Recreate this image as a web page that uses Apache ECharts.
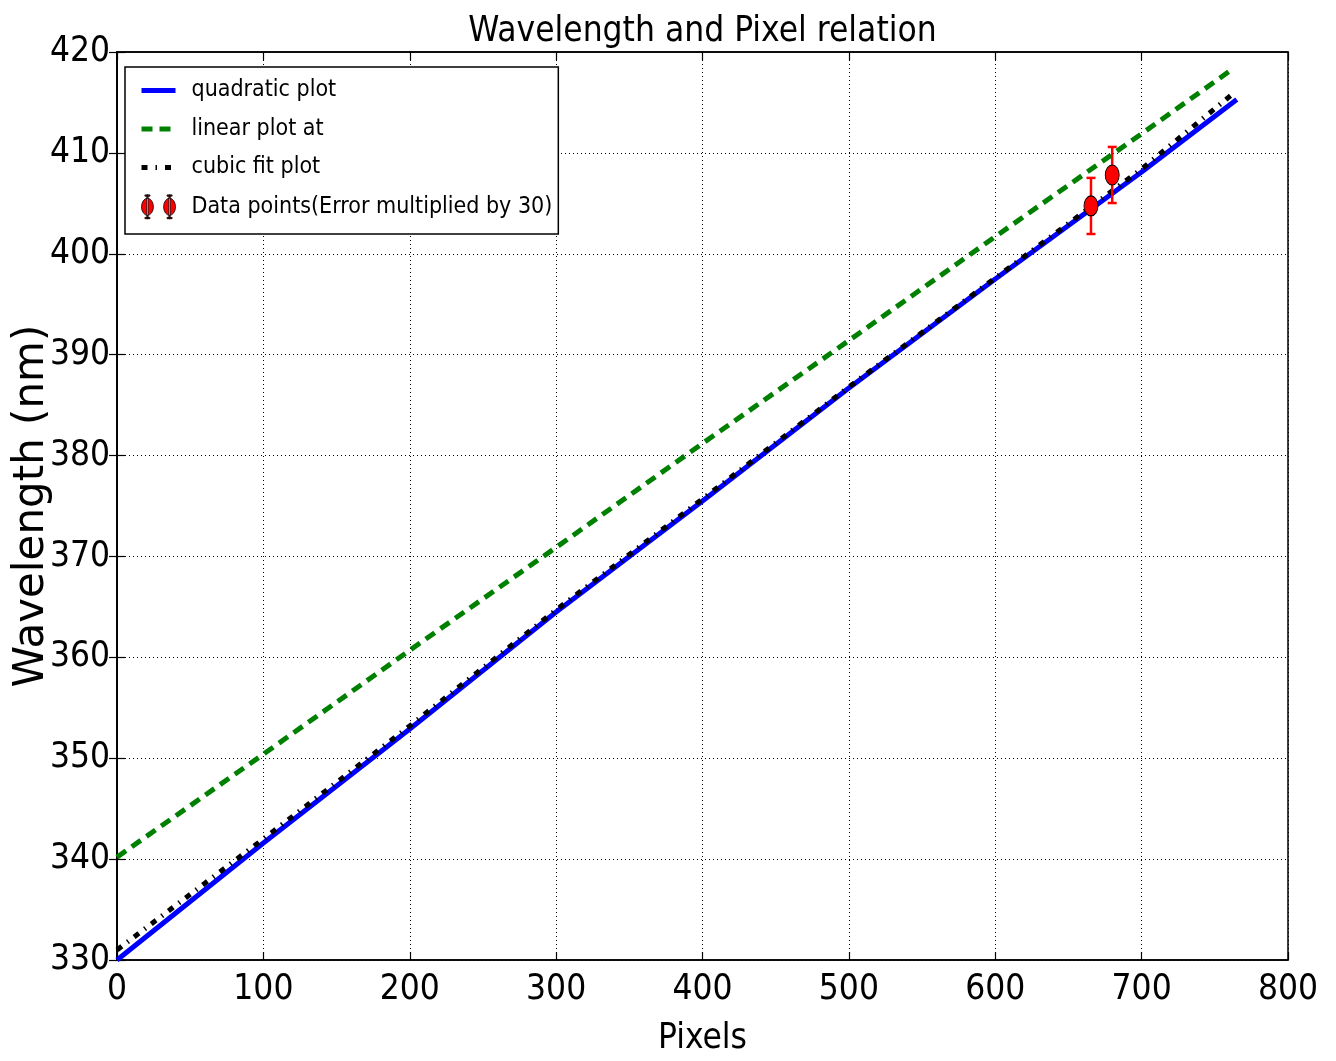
<!DOCTYPE html>
<html><head><meta charset="utf-8">
<script src="https://cdn.jsdelivr.net/npm/echarts@6/dist/echarts.min.js"></script>
<style>html,body{margin:0;padding:0;background:#fff}#c{width:1336px;height:1061px}</style>
</head><body><div id="c"></div>
<script>
// ---- data ----
const quadX = [0, 100, 200, 300, 400, 500, 600, 700, 765];
const quadY = [330.0, 341.6, 352.9, 364.5, 375.5, 386.7, 397.5, 408.1, 415.3];
const linX = [0, 100, 200, 300, 400, 500, 600, 700, 762];
const linY = [340.2, 350.4, 360.7, 370.9, 381.2, 391.4, 401.7, 411.9, 418.3];
const cubX = [0, 100, 200, 300, 400, 500, 600, 700, 761];
const cubY = [331.0, 342.0, 353.2, 364.7, 375.7, 386.8, 397.6, 408.4, 415.7];
const ptX = [665.4, 679.9];
const ptY = [404.74, 407.81];
const ptErr = [2.78, 2.78];
const xTicks = [0, 100, 200, 300, 400, 500, 600, 700, 800];
const yTicks = [330, 340, 350, 360, 370, 380, 390, 400, 410, 420];
const names = ['quadratic plot', 'linear plot at', 'cubic fit plot', 'Data points(Error multiplied by 30)'];

const COND = "'DejaVu Sans Condensed', 'DejaVu Sans', sans-serif";
const zip = (a, b) => a.map((v, i) => [v, b[i]]);

const chart = echarts.init(document.getElementById('c'), null, {renderer: 'canvas'});
const grid = {left: 117, right: 48, top: 52, bottom: 101, containLabel: false, outerBoundsMode: 'none',
  show: true, borderColor: '#000', borderWidth: 1.5, backgroundColor: '#fff'};
const tickInside = {show: true, inside: true, length: 8, lineStyle: {color: '#000', width: 1.2}};
const dotted = {show: true, lineStyle: {color: '#000', width: 1, type: [1, 3]}};

const dataIcon = 'path://M0,14 A7,10 0 1,0 14,14 A7,10 0 1,0 0,14 Z M6.2,0 L7.8,0 L7.8,28 L6.2,28 Z M4,0 L10,0 L10,1.5 L4,1.5 Z M4,26.5 L10,26.5 L10,28 L4,28 Z M26,14 A7,10 0 1,0 40,14 A7,10 0 1,0 26,14 Z M32.2,0 L33.8,0 L33.8,28 L32.2,28 Z M30,0 L36,0 L36,1.5 L30,1.5 Z M30,26.5 L36,26.5 L36,28 L30,28 Z';
const hidden = {opacity: 0};

const option = {
  animation: false,
  backgroundColor: '#fff',
  grid: grid,
  graphic: [{
    type: 'text', x: 702.5, y: 32,
    style: {text: 'Wavelength and Pixel relation', font: '35px ' + COND, fill: '#000', textAlign: 'center', textVerticalAlign: 'middle'}
  }],
  legend: {
    orient: 'vertical', left: 125, top: 67,
    backgroundColor: '#fff', borderColor: '#000', borderWidth: 1.5, borderRadius: 0,
    padding: [12, 6, 15, 14],
    itemWidth: 34, itemHeight: 26, itemGap: 15.5, selectedMode: false,
    textStyle: {fontFamily: COND, fontSize: 23, color: '#000', padding: [0, 0, 0, 11]},
    data: [
      {name: names[0], itemStyle: hidden, lineStyle: {width: 5, color: '#0000ff', type: 'solid'}},
      {name: names[1], itemStyle: hidden, lineStyle: {width: 5, color: '#008000', type: [11, 7]}},
      {name: names[2], itemStyle: hidden, lineStyle: {width: 5, color: '#000', type: [6, 8, 1.5, 8]}},
      {name: names[3], icon: dataIcon, itemStyle: {color: '#ff0000', borderColor: '#000', borderWidth: 0.8}}
    ]
  },
  xAxis: [{
    type: 'value', min: xTicks[0], max: xTicks[xTicks.length - 1], interval: 100,
    name: 'Pixels', nameLocation: 'middle', nameGap: 61,
    nameTextStyle: {fontFamily: COND, fontSize: 35, color: '#000'},
    axisLine: {show: true, lineStyle: {color: '#000', width: 1.5}},
    axisTick: tickInside,
    axisLabel: {fontFamily: COND, fontSize: 35, color: '#000', margin: 12},
    splitLine: dotted
  }, {
    type: 'value', position: 'top', min: xTicks[0], max: xTicks[xTicks.length - 1], interval: 100,
    axisLine: {show: true, lineStyle: {color: '#000', width: 1.5}},
    axisTick: tickInside, axisLabel: {show: false}, splitLine: {show: false}
  }],
  yAxis: [{
    type: 'value', min: yTicks[0], max: yTicks[yTicks.length - 1], interval: 10,
    name: 'Wavelength (nm)', nameLocation: 'middle', nameGap: 64, nameRotate: 90, nameMoveOverlap: false,
    nameTextStyle: {fontFamily: "'DejaVu Sans', sans-serif", fontSize: 42, color: '#000'},
    axisLine: {show: true, lineStyle: {color: '#000', width: 1.5}},
    axisTick: tickInside,
    axisLabel: {fontFamily: COND, fontSize: 35, color: '#000', margin: 7},
    splitLine: dotted
  }, {
    type: 'value', position: 'right', min: yTicks[0], max: yTicks[yTicks.length - 1], interval: 10,
    axisLine: {show: true, lineStyle: {color: '#000', width: 1.5}},
    axisTick: tickInside, axisLabel: {show: false}, splitLine: {show: false}
  }],
  series: [
    {name: names[1], type: 'line', data: zip(linX, linY), showSymbol: false, symbol: 'none', z: 2,
     lineStyle: {color: '#008000', width: 5, type: [11, 7]}, itemStyle: {color: '#008000'}},
    {name: names[0], type: 'line', data: zip(quadX, quadY), showSymbol: false, symbol: 'none', z: 3,
     lineStyle: {color: '#0000ff', width: 5}, itemStyle: {color: '#0000ff'}},
    {name: names[2], type: 'line', data: zip(cubX, cubY), showSymbol: false, symbol: 'none', z: 4,
     lineStyle: {color: '#000', width: 5, type: [6, 7, 1.5, 7]}, itemStyle: {color: '#000'}},
    {name: names[3] + '_err', type: 'custom', z: 5,
     data: ptX.map((x, i) => [x, ptY[i], ptErr[i]]),
     renderItem: function (params, api) {
       const x = api.value(0), y = api.value(1), e = api.value(2);
       const t = api.coord([x, y + e]), b = api.coord([x, y - e]);
       const hw = 4.5, st = {stroke: '#ff0000', lineWidth: 2.5};
       return {type: 'group', children: [
         {type: 'line', shape: {x1: t[0], y1: t[1], x2: b[0], y2: b[1]}, style: st},
         {type: 'line', shape: {x1: t[0] - hw, y1: t[1], x2: t[0] + hw, y2: t[1]}, style: st},
         {type: 'line', shape: {x1: b[0] - hw, y1: b[1], x2: b[0] + hw, y2: b[1]}, style: st}
       ]};
     }},
    {name: names[3], type: 'scatter', z: 6, data: zip(ptX, ptY), symbol: 'circle', symbolSize: [14, 20],
     itemStyle: {color: '#ff0000', borderColor: '#000', borderWidth: 1, opacity: 1}}
  ]
};
chart.setOption(option);
</script></body></html>
